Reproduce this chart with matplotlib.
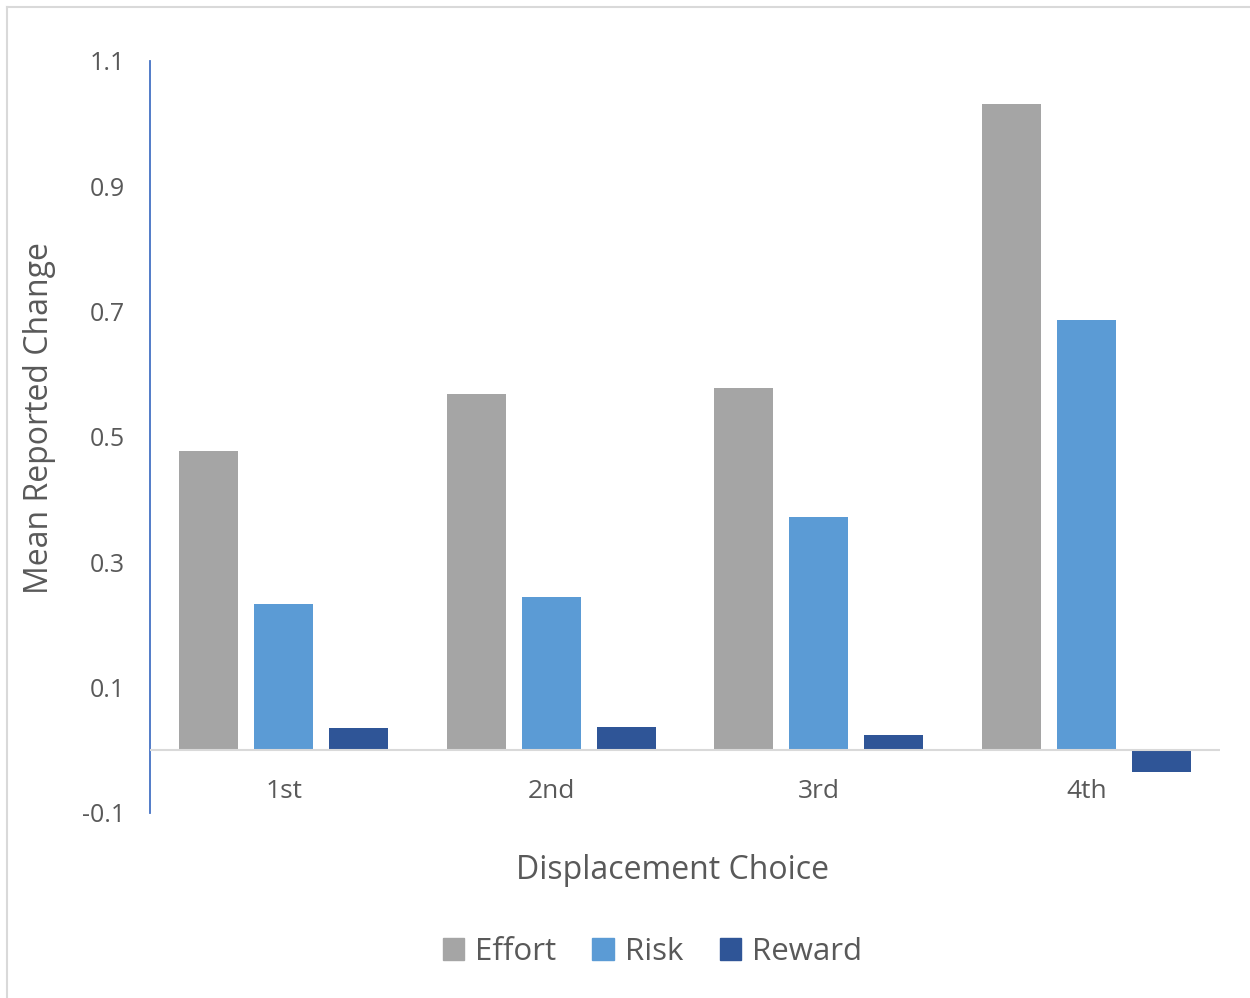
import matplotlib.pyplot as plt
from matplotlib.lines import Line2D
import numpy as np

plt.rcParams['font.family'] = ['Open Sans', 'DejaVu Sans']

# Mean reported change per displacement choice
choices = ['1st', '2nd', '3rd', '4th']
effort = [0.477, 0.568, 0.578, 1.031]
risk = [0.233, 0.244, 0.373, 0.686]
reward = [0.035, 0.037, 0.024, -0.035]
series_names = ['Effort', 'Risk', 'Reward']
yticks = [-0.1, 0.1, 0.3, 0.5, 0.7, 0.9, 1.1]

colors = ['#A5A5A5', '#5B9BD5', '#2F5597']
text_color = '#595959'

fig = plt.figure(figsize=(12.5, 9.98), dpi=100)
ax = fig.add_axes([0.12, 0.1854, 0.856, 0.7535])

x = np.arange(len(choices))
width = 0.22
step = 0.28
for i, (vals, c, name) in enumerate(zip([effort, risk, reward], colors, series_names)):
    ax.bar(x + (i - 1) * step, vals, width, color=c, label=name, zorder=2)

ax.set_xlim(-0.5, len(choices) - 0.5)
ax.set_ylim(-0.1, 1.1)
ax.set_yticks(yticks)
ax.set_yticklabels([f'{t:g}' for t in yticks])
ax.set_xticks([])

# category labels sit just under the zero baseline
for xi, name in zip(x, choices):
    ax.text(xi, -0.066, name, ha='center', va='center', fontsize=19, color=text_color)

# spines: blue vertical axis, gray baseline at zero
for s in ['top', 'right', 'bottom']:
    ax.spines[s].set_visible(False)
ax.spines['left'].set_color('#4472C4')
ax.spines['left'].set_linewidth(1.3)
ax.axhline(0, color='#D9D9D9', lw=1.5, zorder=3)

ax.tick_params(axis='y', length=0, pad=18, labelsize=18, labelcolor=text_color)

fig.text(0.032, 0.581, 'Mean Reported Change', rotation=90, ha='center', va='center',
         fontsize=23, color=text_color)
fig.text(0.538, 0.128, 'Displacement Choice', ha='center', va='center',
         fontsize=23, color=text_color)

handles = [plt.Rectangle((0, 0), 1, 1, color=c) for c in colors]
fig.legend(handles, series_names, loc='center', bbox_to_anchor=(0.522, 0.046), ncol=3,
           frameon=False, fontsize=22.5, labelcolor=text_color, handlelength=0.7,
           handleheight=0.7, handletextpad=0.35, columnspacing=1.15)

# outer chart border (top and left edges visible)
fig.add_artist(Line2D([7 / 1250, 1], [1 - 7 / 998, 1 - 7 / 998], color='#D9D9D9', lw=1.5))
fig.add_artist(Line2D([7 / 1250, 7 / 1250], [0, 1 - 7 / 998], color='#D9D9D9', lw=1.5))

fig.savefig('out.png', dpi=100)
